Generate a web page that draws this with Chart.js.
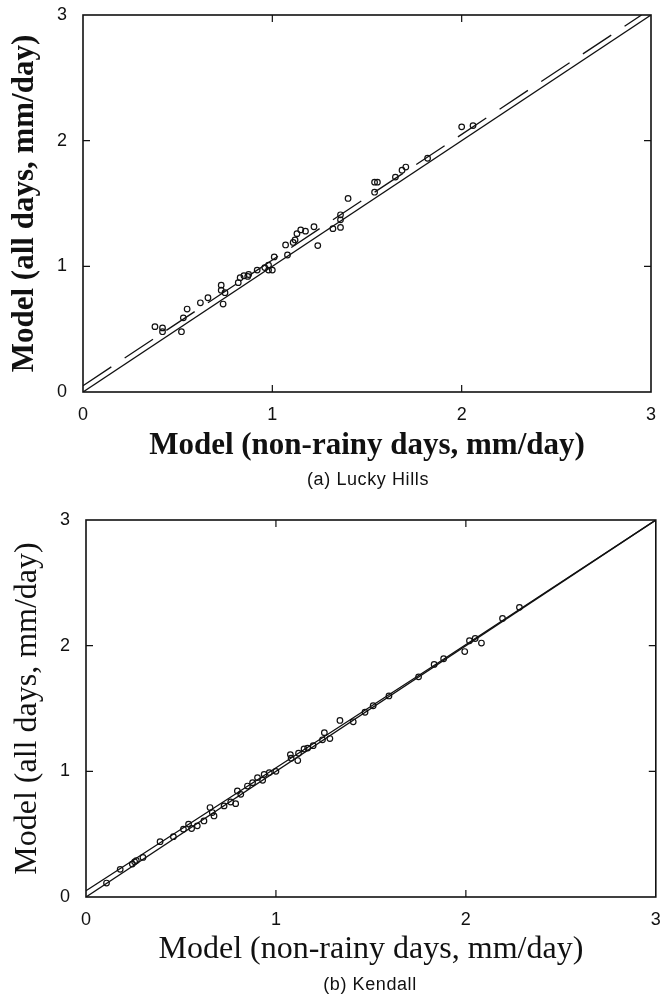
<!DOCTYPE html>
<html>
<head>
<meta charset="utf-8">
<script src="https://cdn.jsdelivr.net/npm/chart.js@4.4.1/dist/chart.umd.min.js"></script>
<style>
  html, body { margin: 0; padding: 0; background: #fff; }
  body { width: 661px; height: 1001px; position: relative; overflow: hidden; }
  canvas { position: absolute; left: 0; }
  .caption {
    position: absolute; width: 300px; text-align: center;
    font-family: "Liberation Sans", Arial, sans-serif; font-size: 18px;
    letter-spacing: 0.6px; color: #111;
  }
</style>
</head>
<body>
<canvas id="luckyChart" width="661" height="470" style="top:0"></canvas>
<div class="caption" style="left:218px; top:469px;">(a) Lucky Hills</div>
<canvas id="kendallChart" width="661" height="470" style="top:505px"></canvas>
<div class="caption" style="left:220px; top:974px;">(b) Kendall</div>

<script>
// ejes
const axisTicks = [0, 1, 2, 3];
const xTitle = 'Model (non-rainy days, mm/day)';
const yTitle = 'Model (all days, mm/day)';

// (a) Lucky Hills
const luckyX = [0.38, 0.42, 0.42, 0.52, 0.53, 0.55, 0.62, 0.66, 0.73, 0.74, 0.73, 0.75, 0.82, 0.83, 0.87,
  0.85, 0.875, 0.92, 0.96, 0.98, 1.00, 0.98, 1.01, 1.08, 1.07, 1.11, 1.12, 1.13, 1.15, 1.175, 1.22, 1.24,
  1.32, 1.36, 1.36, 1.36, 1.40, 1.54, 1.54, 1.555, 1.65, 1.685, 1.705, 1.82, 2.00, 2.06];
const luckyY = [0.52, 0.51, 0.48, 0.48, 0.59, 0.66, 0.71, 0.75, 0.85, 0.70, 0.81, 0.79, 0.87, 0.91, 0.92,
  0.925, 0.935, 0.97, 0.99, 0.97, 0.97, 1.01, 1.075, 1.09, 1.17, 1.19, 1.21, 1.26, 1.29, 1.28, 1.315, 1.165,
  1.30, 1.31, 1.37, 1.41, 1.54, 1.59, 1.67, 1.67, 1.71, 1.765, 1.79, 1.86, 2.11, 2.12];

// línea 1:1 y línea discontinua (a)
const lineX = [0, 3];
const lineY = [0, 3];
const luckyFitX = [0, 2.95];
const luckyFitY = [0.05, 3.0];

// (b) Kendall
const kendallX = [0.108, 0.18, 0.244, 0.256, 0.265, 0.30, 0.39, 0.46, 0.513, 0.54, 0.556, 0.586, 0.621, 0.653,
  0.665, 0.674, 0.727, 0.762, 0.788, 0.797, 0.815, 0.85, 0.877, 0.903, 0.93, 0.938, 0.965, 1.00, 1.076, 1.08,
  1.115, 1.119, 1.148, 1.167, 1.196, 1.245, 1.284, 1.255, 1.337, 1.407, 1.469, 1.512, 1.595, 1.751, 1.833,
  1.883, 1.994, 2.019, 2.049, 2.082, 2.193, 2.282];
const kendallY = [0.111, 0.22, 0.262, 0.28, 0.29, 0.315, 0.44, 0.48, 0.54, 0.58, 0.545, 0.566, 0.605, 0.712,
  0.672, 0.645, 0.725, 0.756, 0.743, 0.844, 0.817, 0.883, 0.91, 0.95, 0.929, 0.976, 0.99, 1.00, 1.133, 1.104,
  1.086, 1.144, 1.178, 1.185, 1.204, 1.251, 1.261, 1.308, 1.405, 1.394, 1.47, 1.522, 1.60, 1.752, 1.851,
  1.896, 1.953, 2.039, 2.057, 2.021, 2.217, 2.305];
const kendallFitX = [0, 1.8, 3];
const kendallFitY = [0.05, 1.81, 3.0];

const toPoints = (xs, ys) => xs.map((x, i) => ({ x, y: ys[i] }));

// marco y marcas interiores
const frameAndTicks = {
  id: 'frameAndTicks',
  afterDraw(chart) {
    const { ctx, chartArea: a, scales } = chart;
    const len = 7;
    ctx.save();
    ctx.strokeStyle = '#111';
    ctx.lineWidth = 1.6;
    ctx.strokeRect(a.left, a.top, a.right - a.left, a.bottom - a.top);
    ctx.lineWidth = 1.2;
    ctx.beginPath();
    axisTicks.slice(1, -1).forEach(v => {
      const px = scales.x.getPixelForValue(v);
      ctx.moveTo(px, a.bottom); ctx.lineTo(px, a.bottom - len);
      ctx.moveTo(px, a.top); ctx.lineTo(px, a.top + len);
      const py = scales.y.getPixelForValue(v);
      ctx.moveTo(a.left, py); ctx.lineTo(a.left + len, py);
      ctx.moveTo(a.right, py); ctx.lineTo(a.right - len, py);
    });
    ctx.stroke();
    ctx.restore();
  }
};

const tickFont = { family: '"Liberation Sans", Arial, sans-serif', size: 18 };

function makeChart(id, pts, fit, dashed, yAxisWidth, rightPad, yTitlePad, titleFont) {
  const ctx = document.getElementById(id).getContext('2d');
  return new Chart(ctx, {
    type: 'scatter',
    data: {
      datasets: [{
        data: pts,
        pointStyle: 'circle',
        pointRadius: 2.8,
        pointBorderWidth: 1.2,
        pointBorderColor: '#111',
        pointBackgroundColor: 'rgba(255,255,255,0)',
        order: 1
      }, {
        data: toPoints(lineX, lineY),
        showLine: true,
        borderColor: '#111',
        borderWidth: 1.3,
        pointRadius: 0,
        order: 2
      }, {
        data: fit,
        showLine: true,
        borderColor: '#111',
        borderWidth: 1.3,
        borderDash: dashed ? [34, 16] : [],
        pointRadius: 0,
        order: 3
      }]
    },
    options: {
      responsive: false,
      animation: false,
      layout: { padding: { top: 15, right: rightPad, left: 0, bottom: 0 } },
      plugins: { legend: { display: false }, tooltip: { enabled: false } },
      scales: {
        x: {
          type: 'linear', min: 0, max: 3,
          afterBuildTicks: s => { s.ticks = axisTicks.map(v => ({ value: v })); },
          afterFit: s => { s.height = 78; s.paddingLeft = 0; s.paddingRight = 0; },
          grid: { display: false, drawTicks: false },
          border: { display: false },
          ticks: { padding: 12, color: '#111', font: tickFont },
          title: {
            display: true, text: xTitle, color: '#111',
            padding: { top: 0, bottom: 9 },
            font: titleFont
          }
        },
        y: {
          type: 'linear', min: 0, max: 3,
          afterBuildTicks: s => { s.ticks = axisTicks.map(v => ({ value: v })); },
          afterFit: s => { s.width = yAxisWidth; s.paddingTop = 0; s.paddingBottom = 0; },
          grid: { display: false, drawTicks: false },
          border: { display: false },
          ticks: { padding: 16, color: '#111', font: tickFont },
          title: {
            display: true, text: yTitle, color: '#111',
            padding: { top: yTitlePad, bottom: 0 },
            font: titleFont
          }
        }
      }
    },
    plugins: [frameAndTicks]
  });
}

const serif = '"Liberation Serif", "Times New Roman", serif';
makeChart('luckyChart', toPoints(luckyX, luckyY), toPoints(luckyFitX, luckyFitY), true, 83, 10, 9,
  { family: serif, size: 31, weight: 'bold', lineHeight: 1 });
makeChart('kendallChart', toPoints(kendallX, kendallY), toPoints(kendallFitX, kendallFitY), false, 86, 4, 12,
  { family: serif, size: 32, weight: 'normal', lineHeight: 1 });
</script>
</body>
</html>
